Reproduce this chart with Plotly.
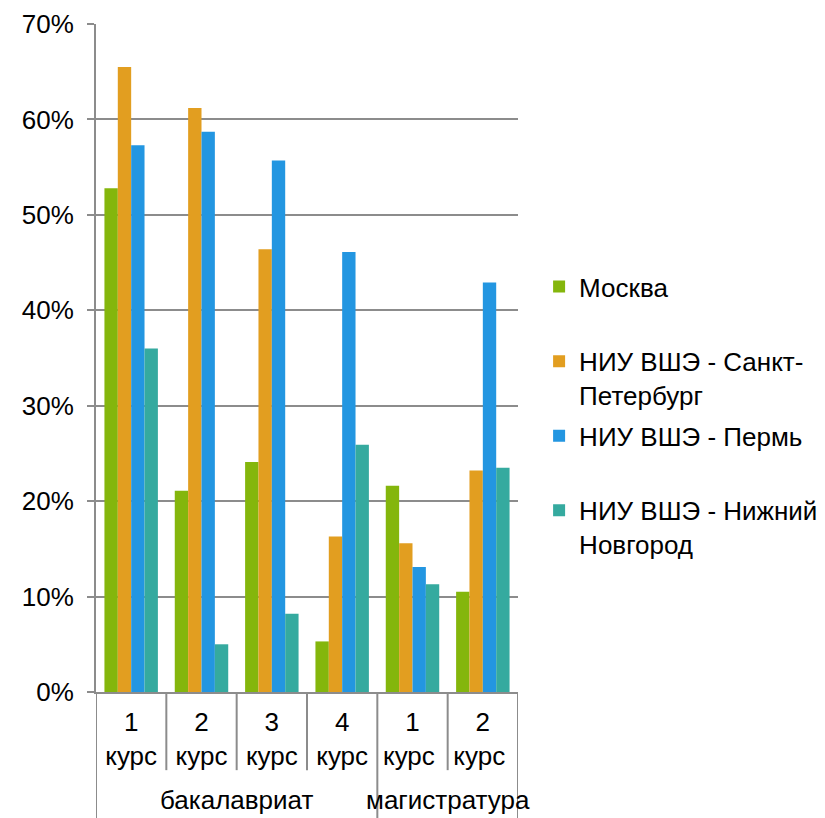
import plotly.graph_objects as go

# Categories
courses = ["1<br>курс", "2<br>курс", "3<br>курс", "4<br>курс", "1<br>курс ", "2<br>курс "]
programs = ["бакалавриат", "магистратура"]
program_sizes = [4, 2]

# Share of students by campus
moscow = [0.528, 0.211, 0.241, 0.053, 0.216, 0.105]
spb = [0.655, 0.612, 0.464, 0.163, 0.156, 0.232]
perm = [0.573, 0.587, 0.557, 0.461, 0.131, 0.429]
nnov = [0.360, 0.050, 0.082, 0.259, 0.113, 0.235]

series = [
    ("Москва<br> ", moscow, "#84B60C"),
    ("НИУ ВШЭ - Санкт-<br>Петербург", spb, "#E29E20"),
    ("НИУ ВШЭ - Пермь<br> ", perm, "#2396E1"),
    ("НИУ ВШЭ - Нижний<br>Новгород", nnov, "#35AA9F"),
]

fig = go.Figure()
for i, (name, vals, color) in enumerate(series):
    fig.add_trace(go.Bar(
        x=courses, y=vals, name=name,
        marker=dict(color=color, line=dict(width=0)),
        legendgroup=str(i),
    ))

axis_gray = "#8C8C8C"
font = dict(family="Liberation Sans, Arial, sans-serif", size=26, color="#000000")

# category boundary lines below the axis: short ones between courses,
# long ones around each programme
shapes = []
start = 0
bounds_long = [-0.5]
for n in program_sizes:
    start += n
    bounds_long.append(start - 0.5)
for k in range(len(courses) + 1):
    xb = k - 0.5
    y_end = -0.19 if xb in bounds_long else -0.117
    shapes.append(dict(type="line", xref="x", yref="paper", x0=xb, x1=xb,
                       y0=0, y1=y_end, line=dict(color=axis_gray, width=2)))

annotations = []
start = 0
for name, n in zip(programs, program_sizes):
    annotations.append(dict(text=name, xref="x", yref="paper",
                            x=start + (n - 1) / 2, y=-0.162, showarrow=False,
                            xanchor="center", yanchor="middle", font=font))
    start += n

# page body has an 8px margin, so the plot margins are reduced by 8
fig.update_layout(
    width=825, height=818,
    margin=dict(l=88, r=315, t=16, b=134, autoexpand=False),
    plot_bgcolor="white", paper_bgcolor="white",
    font=font,
    barmode="group", bargap=0.24, bargroupgap=0,
    showlegend=True,
    legend=dict(x=1.05, y=0.642, xanchor="left", yanchor="top",
                valign="top", tracegroupgap=4, font=font,
                bgcolor="rgba(0,0,0,0)"),
    shapes=shapes, annotations=annotations,
)
fig.update_yaxes(
    range=[0, 0.7], dtick=0.1, tickformat=".0%",
    showgrid=True, gridcolor=axis_gray, gridwidth=2,
    showline=True, linecolor=axis_gray, linewidth=2,
    ticks="outside", ticklen=7, tickcolor=axis_gray, tickwidth=2,
    zeroline=False, ticklabelstandoff=8,
)
fig.update_xaxes(
    type="category", range=[-0.5, len(courses) - 0.5],
    showline=True, linecolor=axis_gray, linewidth=2,
    ticks="", showgrid=False, ticklabelstandoff=6,
)

fig.write_html("out.html")
